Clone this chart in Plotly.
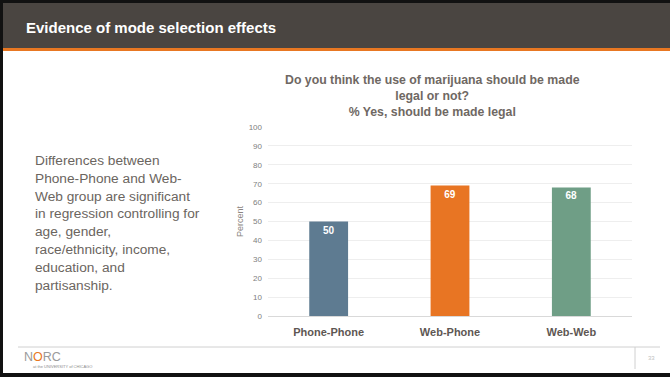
import plotly.graph_objects as go

# Survey result: share answering "Yes, should be made legal", by mode group
groups = ["Phone-Phone", "Web-Phone", "Web-Web"]
pct_yes = [50, 69, 68]
bar_colors = ["#5E7B91", "#E87523", "#6F9E86"]
y_ticks = [0, 10, 20, 30, 40, 50, 60, 70, 80, 90, 100]

W, H = 670, 377
PL, PR, PT, PB = 268, 632, 127, 316  # plot area in pixels


def px(x):
    return (x - PL) / (PR - PL)


def py(y):
    return (PB - y) / (PB - PT)


FONT = "Arial, Liberation Sans, sans-serif"

fig = go.Figure(
    go.Bar(
        x=groups,
        y=pct_yes,
        marker=dict(color=bar_colors, line=dict(width=0)),
        text=[str(v) for v in pct_yes],
        textposition="inside",
        insidetextanchor="end",
        textfont=dict(family=FONT, size=10, color="white", weight="bold"),
        cliponaxis=False,
        hoverinfo="skip",
    )
)

shapes = [
    # header band
    dict(type="rect", xref="paper", yref="paper", x0=px(0), x1=px(W), y0=py(0), y1=py(48),
         fillcolor="#4A4541", line=dict(width=0), layer="below"),
    # orange rule under header
    dict(type="rect", xref="paper", yref="paper", x0=px(0), x1=px(W), y0=py(48), y1=py(51),
         fillcolor="#E87722", line=dict(width=0), layer="below"),
    # black frame edges
    dict(type="rect", xref="paper", yref="paper", x0=px(0), x1=px(W), y0=py(0), y1=py(3),
         fillcolor="#111111", line=dict(width=0), layer="above"),
    dict(type="rect", xref="paper", yref="paper", x0=px(0), x1=px(3), y0=py(0), y1=py(H),
         fillcolor="#111111", line=dict(width=0), layer="above"),
    dict(type="rect", xref="paper", yref="paper", x0=px(0), x1=px(W), y0=py(373), y1=py(H),
         fillcolor="#111111", line=dict(width=0), layer="above"),
    # footer rules
    dict(type="line", xref="paper", yref="paper", x0=px(18), x1=px(660), y0=py(347), y1=py(347),
         line=dict(color="#D0D0D0", width=1)),
    dict(type="line", xref="paper", yref="paper", x0=px(635), x1=px(635), y0=py(347), y1=py(369),
         line=dict(color="#D0D0D0", width=1)),
]


def note(text, x, y, **kw):
    d = dict(text=text, x=px(x), y=py(y), xref="paper", yref="paper",
             showarrow=False, xanchor="center", yanchor="middle")
    d.update(kw)
    return d


annotations = [
    note("<b>Evidence of mode selection effects</b>", 24, 27, xanchor="left",
         font=dict(family=FONT, size=15, color="white")),
    note("<b>Do you think the use of marijuana should be made<br>legal or not?<br>% Yes, should be made legal</b>",
         432, 96, font=dict(family=FONT, size=12.3, color="#6F6863")),
    note("Differences between<br>Phone-Phone and Web-<br>Web group are significant<br>"
         "in regression controlling for<br>age, gender,<br>race/ethnicity, income,<br>"
         "education, and<br>partisanship.",
         33, 223, xanchor="left", align="left",
         font=dict(family=FONT, size=13.7, color="#6B6560")),
    note("Percent", 240, 221, textangle=-90,
         font=dict(family=FONT, size=9, color="#8A8480")),
    note("N<span style='color:#E87722'>O</span>RC", 22, 357, xanchor="left",
         font=dict(family=FONT, size=12.5, color="#9A9A9A")),
    note("at the UNIVERSITY of CHICAGO", 31, 366, xanchor="left",
         font=dict(family=FONT, size=4, color="#8C8C8C")),
    note("33", 651, 358, font=dict(family=FONT, size=6, color="#BFBFBF")),
]

fig.update_layout(
    width=W, height=H,
    margin=dict(l=PL, r=W - PR, t=PT, b=H - PB, pad=0),
    paper_bgcolor="white", plot_bgcolor="white",
    bargap=0.68,
    showlegend=False,
    shapes=shapes,
    annotations=annotations,
    xaxis=dict(
        showgrid=False, showline=True, linecolor="#D9D9D9", linewidth=1,
        ticks="", tickfont=dict(family=FONT, size=11, color="#5E5753", weight="bold"),
        ticklabelstandoff=6, fixedrange=True,
    ),
    yaxis=dict(
        range=[0, 100], tickvals=y_ticks, showgrid=True, gridcolor="#EEEEEE", gridwidth=1,
        zeroline=False, showline=False, ticks="",
        tickfont=dict(family=FONT, size=8, color="#808080"),
        ticklabelstandoff=5, fixedrange=True,
    ),
)

fig.write_html("out.html", include_plotlyjs=True, config={"displayModeBar": False})
